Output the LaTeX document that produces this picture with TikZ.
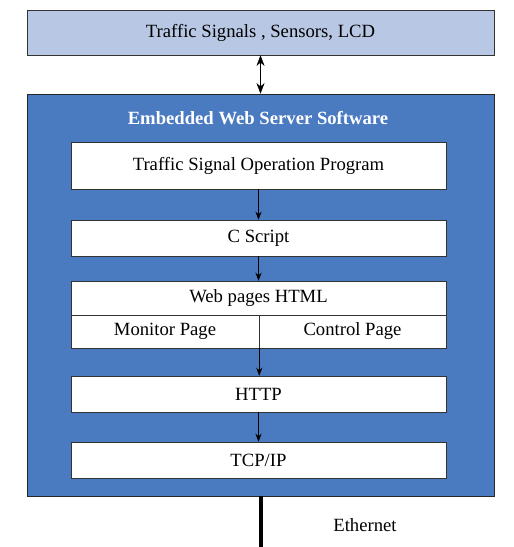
\documentclass[tikz,border=0pt]{standalone}
\usepackage{fontspec}
\setmainfont{Liberation Serif}
\usetikzlibrary{arrows.meta, positioning, fit}
\definecolor{devblue}{RGB}{184,200,228}
\definecolor{serverblue}{RGB}{74,122,192}
\tikzset{
  txt/.style={font=\fontsize{14}{16}\selectfont},
  layer/.style={draw=black!80, fill=white, inner sep=0pt},
  flow/.style={thin, -{Stealth[length=6pt,width=4.5pt]}},
}

\begin{document}
\begin{tikzpicture}[x=0.75pt, y=-0.75pt]
    \useasboundingbox (0,0) rectangle (514,547);

    % Devices on top
    \node[fit={(27,10) (494,55)}, draw=black!80, fill=devblue, inner sep=0pt] (devices) {};
    \node[txt] at (devices.center) {Traffic Signals , Sensors, LCD};

    % Server block
    \node[fit={(27,94) (494,496)}, draw=black!85, fill=serverblue, inner sep=0pt] (server) {};
    \node[text=white, font=\fontsize{14}{16}\selectfont\bfseries] (title) at (258,118) {Embedded Web Server Software};

    % Software layers
    \node[layer, fit={(71,142) (446,189)}] (program) {};
    \node[layer, fit={(71,220) (446,256)}] (cscript) {};
    \node[layer, fit={(71,281) (446,315)}] (html) {};
    \node[layer, fit={(71,315) (259,348)}] (monitor) {};
    \node[layer, fit={(259,315) (446,348)}] (control) {};
    \node[layer, fit={(71,376) (446,412)}] (http) {};
    \node[layer, fit={(71,442) (446,478)}] (tcpip) {};
    \foreach \n/\t in {program/{Traffic Signal Operation Program}, cscript/{C Script},
                       html/{Web pages HTML}, monitor/{Monitor Page}, control/{Control Page},
                       http/{HTTP}, tcpip/{TCP/IP}}
        \node[txt] at (\n.center) {\t};

    % Connections
    \draw[thin, {Stealth[length=8pt,width=6pt]}-{Stealth[length=8pt,width=6pt]}] (devices.south) -- (server.north);
    \draw[flow] (program) -- (cscript);
    \draw[flow] (cscript) -- (html);
    \draw[flow] (monitor.south east) -- (monitor.south east |- http.north);
    \draw[flow] (http) -- (tcpip);

    % Ethernet
    \coordinate (eth) at (260.5,547);
    \draw[line width=3pt] (server.south) -- (eth);
    \node[txt] (ethlabel) at (365,525) {Ethernet};
\end{tikzpicture}
\end{document}
